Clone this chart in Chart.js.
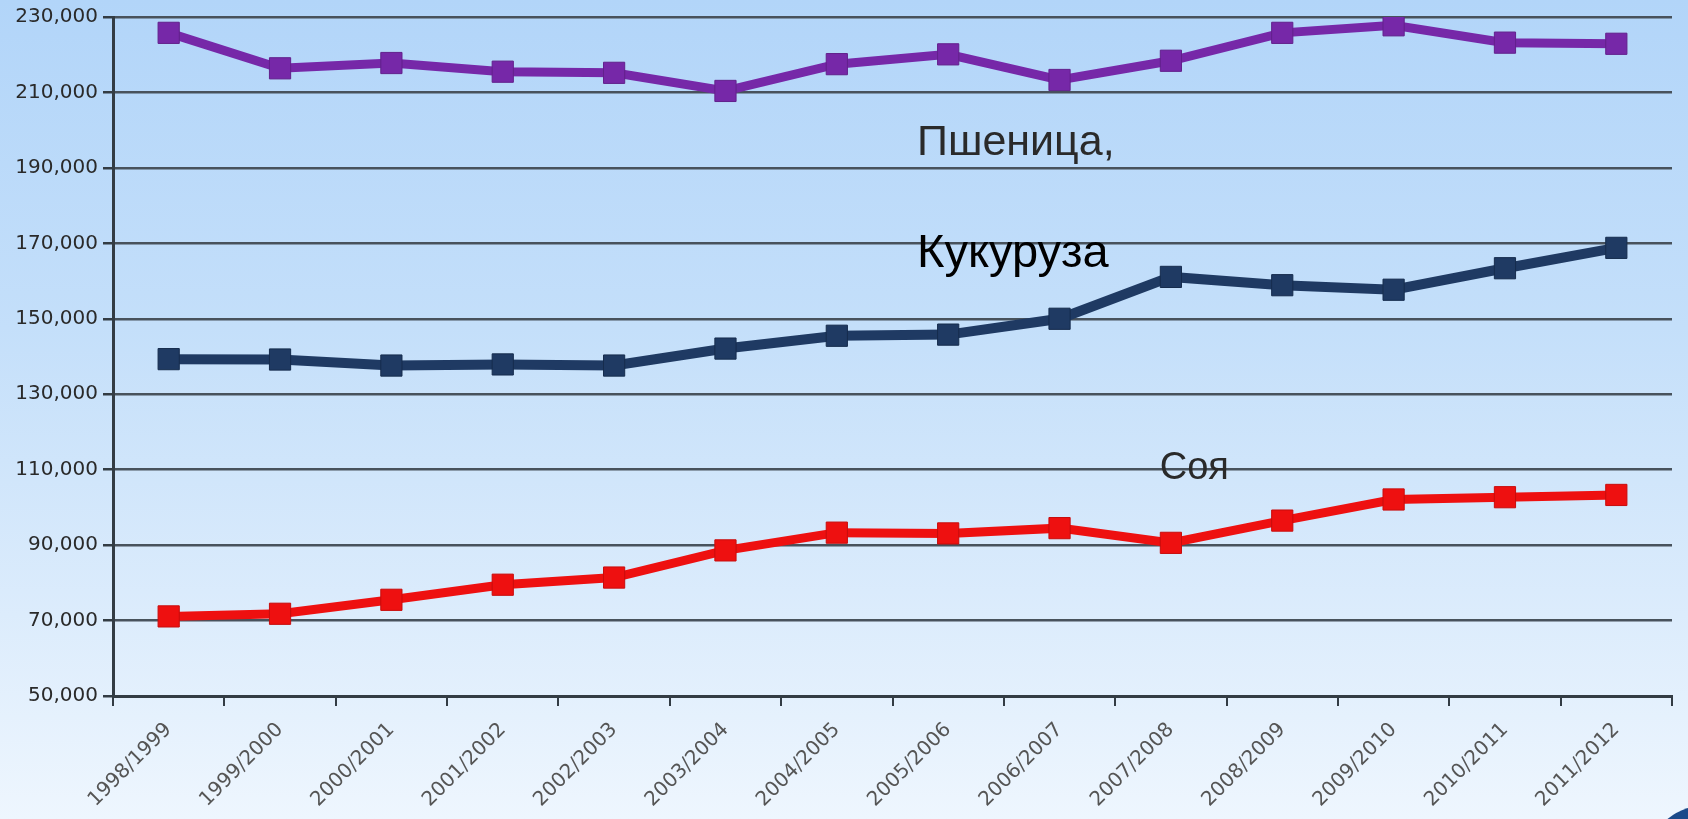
<!DOCTYPE html>
<html>
<head>
<meta charset="utf-8">
<script src="https://cdn.jsdelivr.net/npm/chart.js@4/dist/chart.umd.min.js"></script>
<style>
  html, body { margin: 0; padding: 0; overflow: hidden; }
  body {
    width: 1688px; height: 819px; position: relative;
    background: linear-gradient(180deg, #b2d5f9 0%, #c4dffa 40%, #dcecfc 75%, #eef6fe 100%);
  }
  #chart { position: absolute; left: 0; top: 0; }
  .logo {
    position: absolute; left: 1648px; top: 806px; width: 110px; height: 110px;
    border-radius: 50%; background: #1b4a8a;
  }
</style>
</head>
<body>
<canvas id="chart" width="1688" height="819"></canvas>
<div class="logo"></div>
<script>
const seasons = ["1998/1999", "1999/2000", "2000/2001", "2001/2002", "2002/2003", "2003/2004", "2004/2005",
  "2005/2006", "2006/2007", "2007/2008", "2008/2009", "2009/2010", "2010/2011", "2011/2012"];

// purple line (top)
const wheat = [225800, 216400, 217800, 215500, 215200, 210400, 217500, 220100, 213300, 218400, 225800, 227800, 223200, 222900];
// navy line (middle)
const corn = [139300, 139200, 137600, 137900, 137600, 142100, 145500, 145800, 150000, 161100, 158900, 157700, 163400, 168800];
// red line (bottom)
const soy = [71100, 71800, 75500, 79500, 81400, 88600, 93300, 93100, 94500, 90600, 96500, 102100, 102700, 103300];

const yMin = 50000, yMax = 230000, yStep = 20000;

// text labels: [text, x position (category index), y value, font, colour]
const notes = [
  ["Пшеница,", 6.72, 193300, "43px 'Liberation Sans', Arial", "#2a2a2a"],
  ["Кукуруза", 6.72, 163800, "47px 'Liberation Sans', Arial", "#000000"],
  ["Соя", 8.9, 107600, "38px 'Liberation Sans', Arial", "#2a2a2a"]
];

const notesPlugin = {
  id: "notes",
  afterDatasetsDraw(chart) {
    const c = chart.ctx;
    const xs = chart.scales.x, ys = chart.scales.y;
    c.save();
    c.textAlign = "left";
    c.textBaseline = "alphabetic";
    notes.forEach(n => {
      c.font = n[3];
      c.fillStyle = n[4];
      c.fillText(n[0], xs.getPixelForValue(n[1]), ys.getPixelForValue(n[2]));
    });
    c.restore();
  }
};

function series(data, color, border, width) {
  return {
    data: data,
    borderColor: color,
    backgroundColor: color,
    pointBorderColor: border,
    pointBorderWidth: 1,
    borderWidth: width,
    pointStyle: "rect",
    pointRadius: 15,
    pointHoverRadius: 15,
    tension: 0
  };
}

const ctx = document.getElementById("chart").getContext("2d");
const chart = new Chart(ctx, {
  type: "line",
  data: {
    labels: seasons,
    datasets: [
      series(wheat, "#7628a8", "#62208c", 9),
      series(corn, "#1f3a63", "#162c4d", 10),
      series(soy, "#ee1010", "#c80c0c", 9)
    ]
  },
  options: {
    responsive: false,
    animation: false,
    layout: { padding: { top: 14, right: 3, left: 0, bottom: 0 } },
    plugins: { legend: { display: false }, tooltip: { enabled: false } },
    scales: {
      x: {
        offset: true,
        grid: {
          offset: true,
          drawOnChartArea: true,
          color: c => c.index === seasons.length ? "#5a6570" : "transparent",
          tickColor: "#333c44",
          tickLength: 10,
          lineWidth: 2
        },
        border: { color: "#333c44", width: 3 },
        ticks: {
          minRotation: 45, maxRotation: 45, autoSkip: false,
          color: "#555", padding: 12,
          font: { family: "'DejaVu Sans'", size: 20 }
        },
        afterFit: s => { s.height = 123; }
      },
      y: {
        min: yMin, max: yMax,
        grid: { color: "#48525c", lineWidth: 2.5, tickColor: "#333c44", tickLength: 10 },
        border: { color: "#333c44", width: 3 },
        ticks: {
          stepSize: yStep, color: "#2a2a2a", padding: 5,
          font: { family: "'DejaVu Sans'", size: 20 },
          callback: v => v.toLocaleString("en-US")
        },
        afterFit: s => { s.width = 113; }
      }
    }
  },
  plugins: [notesPlugin]
});
</script>
</body>
</html>
